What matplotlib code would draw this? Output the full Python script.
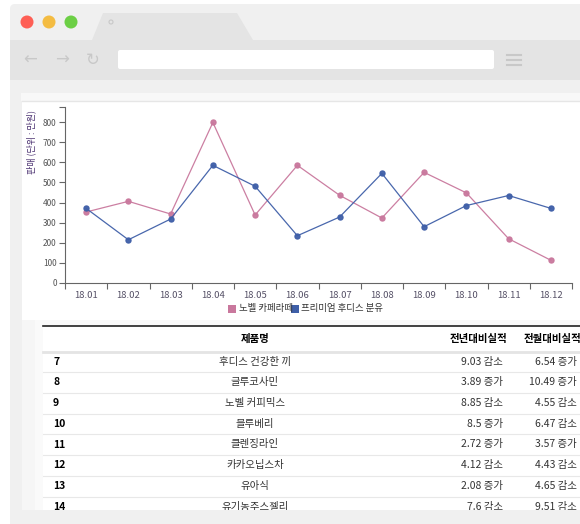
import matplotlib
matplotlib.use("Agg")
import matplotlib.pyplot as plt
from matplotlib.patches import Rectangle, FancyBboxPatch, Circle, Polygon

plt.rcParams['font.family'] = ['Noto Sans CJK KR', 'DejaVu Sans']

# chart data
months = ['18.01', '18.02', '18.03', '18.04', '18.05', '18.06',
          '18.07', '18.08', '18.09', '18.10', '18.11', '18.12']
latte_name = '노벨 카페라떼'
latte = [353, 406, 343, 798, 338, 585, 436, 323, 550, 448, 220, 113]
formula_name = '프리미엄 후디스 분유'
formula = [371, 215, 318, 585, 481, 235, 328, 545, 280, 385, 435, 371]
y_ticks = [0, 100, 200, 300, 400, 500, 600, 700, 800]
y_label = '판매 (단위 : 만원)'

# table data
col_headers = ['제품명', '전년대비실적', '전월대비실적']
row_no = ['7', '8', '9', '10', '11', '12', '13', '14']
products = ['후디스 건강한 끼', '글루코사민', '노벨 커피믹스', '블루베리',
            '클렌징라인', '카카오닙스차', '유아식', '유기농주스젤리']
yoy = ['9.03 감소', '3.89 증가', '8.85 감소', '8.5 증가',
       '2.72 증가', '4.12 감소', '2.08 증가', '7.6 감소']
mom = ['6.54 증가', '10.49 증가', '4.55 감소', '6.47 감소',
       '3.57 증가', '4.43 감소', '4.65 감소', '9.51 감소']

pink = '#c9789d'
blue = '#3f5fa8'

W, H = 580, 524
fig = plt.figure(figsize=(W / 100, H / 100), dpi=100)
fig.patch.set_facecolor('white')

# background axes in pixel coordinates for the browser mockup + table
bg = fig.add_axes([0, 0, 1, 1])
bg.set_xlim(0, W)
bg.set_ylim(H, 0)
bg.axis('off')

bg.add_patch(FancyBboxPatch((10, 4), 600, 540, boxstyle='round,pad=0,rounding_size=5',
                            fc='#f0f0f0', ec='none'))
bg.add_patch(Rectangle((10, 40), 580, 40, fc='#e4e4e4', ec='none'))
bg.add_patch(Polygon([(92, 40), (103, 13), (237, 13), (253, 40)], closed=True,
                     fc='#e4e4e4', ec='none'))
bg.add_patch(Circle((111, 22), 2, fc='none', ec='#c8c8c8', lw=0.8))
for cx, c in zip([27, 49, 71], ['#fe5f55', '#f4bc42', '#6ccf45']):
    bg.add_patch(Circle((cx, 22), 6.5, fc=c, ec='none'))
bg.add_patch(FancyBboxPatch((118, 50), 376, 19, boxstyle='round,pad=0,rounding_size=2',
                            fc='white', ec='none'))
for x, s in zip([30, 62, 93], ['←', '→', '↻']):
    bg.text(x, 60, s, fontsize=12, color='#c8c8c8', ha='center', va='center',
            family='DejaVu Sans')
for y in [55, 60, 65]:
    bg.plot([507, 521], [y, y], color='#c8c8c8', lw=1.5)

# chart panel
bg.add_patch(Rectangle((21, 93), 570, 8, fc='#f8f8f8', ec='none'))
bg.add_patch(Rectangle((22, 101), 570, 219, fc='white', ec='none'))
bg.plot([22, 580], [101, 101], color='#e6e6e6', lw=1)

# legend
bg.add_patch(Rectangle((228, 305), 8, 8, fc=pink, ec='none'))
bg.text(239, 309, latte_name, fontsize=6.8, color='#333', va='center', ha='left')
bg.add_patch(Rectangle((291, 305), 8, 8, fc=blue, ec='none'))
bg.text(301, 309, formula_name, fontsize=6.8, color='#333', va='center', ha='left')

bg.text(31, 142, y_label, rotation=90, fontsize=6.5, color='#4a3070',
        ha='center', va='center')

# table panel
bg.add_patch(Rectangle((22, 320), 13, 190, fc='#f6f6f6', ec='none'))
bg.add_patch(Rectangle((35, 320), 560, 190, fc='#fafafa', ec='none'))
bg.add_patch(Rectangle((43, 326), 560, 190, fc='white', ec='none'))
bg.plot([43, 580], [326, 326], color='#222', lw=1.2)
bg.plot([43, 580], [351.5, 351.5], color='#e4e4e4', lw=2)

header_y = 339
bg.text(255, header_y, col_headers[0], fontsize=7.5, weight='bold', ha='center', va='center')
bg.text(478, header_y, col_headers[1], fontsize=7.5, weight='bold', ha='center', va='center')
bg.text(524, header_y, col_headers[2], fontsize=7.5, weight='bold', ha='left', va='center')

row_h = 20.7
for i in range(len(row_no)):
    y = 361.7 + i * row_h
    bg.text(53, y, row_no[i], fontsize=7.5, weight='bold', ha='left', va='center')
    bg.text(255, y, products[i], fontsize=7.5, color='#333', ha='center', va='center')
    bg.text(503, y, yoy[i], fontsize=7.5, color='#333', ha='right', va='center')
    bg.text(577, y, mom[i], fontsize=7.5, color='#333', ha='right', va='center')
    bg.plot([43, 580], [y + 10.6, y + 10.6], color='#e8e8e8', lw=0.8)

bg.add_patch(Rectangle((0, 510), W, 20, fc='#f0f0f0', ec='none', zorder=10))
bg.add_patch(Rectangle((0, 0), 9.5, H, fc='white', ec='none', zorder=10))

# line chart
ax = fig.add_axes([65 / W, 1 - 283 / H, 507 / W, 176 / H])
ax.set_facecolor('none')
x = list(range(len(months)))
ax.plot(x, latte, color=pink, lw=0.9, marker='o', ms=3.6, alpha=0.95)
ax.plot(x, formula, color=blue, lw=0.9, marker='o', ms=3.6, alpha=0.95)
ax.set_xlim(-0.5, len(months) - 0.5)
ax.set_ylim(0, 875)
ax.set_yticks(y_ticks)
ax.set_yticklabels([str(v) for v in y_ticks], fontsize=6, color='#555')
ax.set_yticks([875], minor=True)
ax.set_xticks(x)
ax.set_xticklabels(months, fontsize=6.8, color='#555066')
ax.set_xticks([i - 0.5 for i in range(len(months) + 1)], minor=True)
ax.tick_params(axis='x', which='major', length=0, pad=6)
ax.tick_params(axis='x', which='minor', length=4, color='#666', width=0.8)
ax.tick_params(axis='y', which='both', length=4, color='#666', width=0.8, pad=2)
for s in ['top', 'right']:
    ax.spines[s].set_visible(False)
for s in ['left', 'bottom']:
    ax.spines[s].set_color('#666')
    ax.spines[s].set_linewidth(0.8)

fig.savefig('out.png', dpi=100)
